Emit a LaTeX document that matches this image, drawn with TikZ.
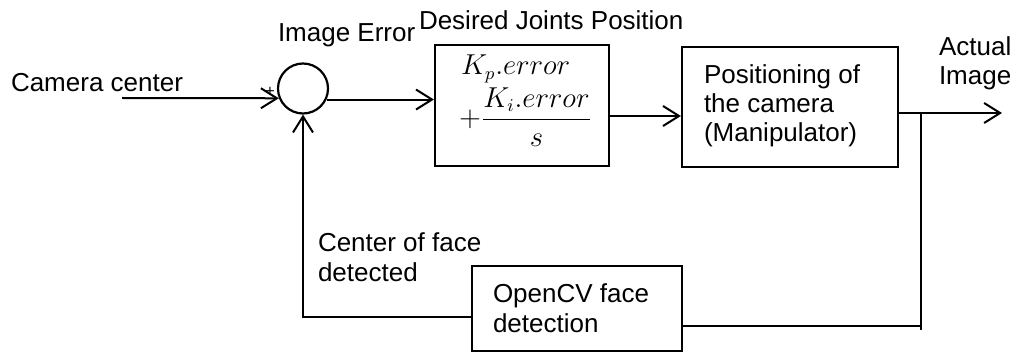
\documentclass[tikz,border=0pt]{standalone}
\usepackage{amsmath}
\usepackage{fontspec}
\setmainfont{Liberation Sans}
\usetikzlibrary{arrows.meta}
\begin{document}
\begin{tikzpicture}[x=0.5pt,y=-0.5pt,
  line width=1pt,
  every node/.style={font=\fontsize{13}{14.7}\selectfont},
  arr/.style={-{Straight Barb[length=8pt,width=10pt,line width=1pt]}},
  blk/.style={draw,inner sep=0pt,line width=1.1pt},
  lbl/.style={anchor=base west,inner sep=0pt,align=left},
  mth/.style={anchor=base west,inner sep=0pt,font=\fontsize{13.5}{16}\selectfont}]
\useasboundingbox (0,0) rectangle (1015,352);
% blocks
\node[blk,circle,minimum size=25pt] (sum) at (303,88.5) {};
\node[blk,minimum width=87pt,minimum height=60.5pt] (pi) at (522,105.5) {};
\node[blk,minimum width=108pt,minimum height=60pt] (cam) at (790,107) {};
\node[blk,minimum width=105pt,minimum height=42.5pt] (cv) at (577,308.5) {};
% texts (multi-line nodes: base = last line)
\node[lbl] (tcc) at (10,92) {Camera center};
\node[lbl] (tie) at (277,42) {Image Error};
\node[lbl] (tdj) at (418,30) {Desired Joints Position};
\node[lbl] (tai) at (938,85) {Actual\\Image};
\node[lbl] (tcam) at (703,142) {Positioning of\\the camera\\(Manipulator)};
\node[lbl] (tcf) at (317,281) {Center of face\\detected};
\node[lbl] (tcv) at (492,332) {OpenCV face\\detection};
\node[anchor=center,inner sep=0pt,font=\fontsize{8}{8}\selectfont] (plus) at (270,92) {+};
\node[mth] (kp) at (460,75) {$K_p.error$};
\node[mth] (ki) at (458,127) {$+\dfrac{K_i.error}{s}$};
% connectors
\coordinate (in) at (122,98);
\coordinate (y2) at (0,116);
\coordinate (out) at (1002,113);
\coordinate (br) at (921,113);
\coordinate (brb) at (921,330);
\coordinate (y3) at (0,326);
\coordinate (y4) at (0,317);
\draw[arr] (in) -- (sum.202);
\draw[arr] (sum.-25) -- (sum.-25 -| pi.west);
\draw[arr] (pi.east |- y2) -- (cam.west |- y2);
\draw[arr] (cam.east |- out) -- (out);
\draw (br) -- (brb);
\draw (cv.east |- y3) -- (brb |- y3);
\draw[arr] (cv.west |- y4) -| (sum.south);
\end{tikzpicture}
\end{document}
